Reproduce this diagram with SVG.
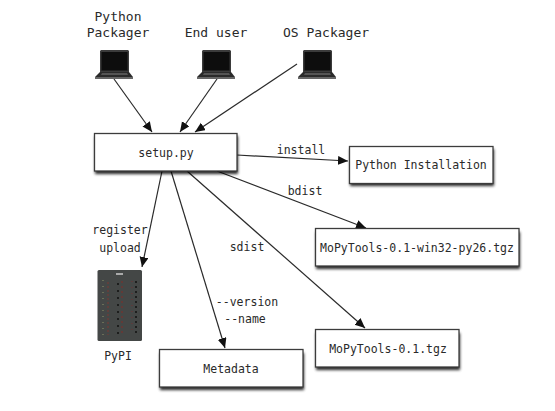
<svg xmlns="http://www.w3.org/2000/svg" xmlns:xlink="http://www.w3.org/1999/xlink" width="555" height="411" viewBox="0 0 555 411">
<style>
text{font-family:"DejaVu Sans Mono","Liberation Mono",monospace;font-size:11.5px;fill:#2a2a2a;text-anchor:middle}
text.big{font-size:13px}
.box{fill:#fff;stroke:#3c3c3c;stroke-width:1.300}
.sh{fill:#000;opacity:.85;filter:url(#blur)}
.c{fill:none;stroke:#2a2a2a;stroke-width:1.200;marker-end:url(#arrow)}
</style>
<defs>
<filter id="blur" x="-10%" y="-30%" width="120%" height="160%"><feGaussianBlur stdDeviation="1.500"/></filter>
<filter id="soft" x="-5%" y="-5%" width="110%" height="110%"><feGaussianBlur stdDeviation="0.500"/></filter>
<marker id="arrow" markerUnits="userSpaceOnUse" markerWidth="12" markerHeight="10" refX="10" refY="4.500" orient="auto"><path d="M0 0L10 4.500L0 9Z" fill="#111"/></marker>
<g id="laptop" filter="url(#soft)">
<path d="M6 0H33L34 1V22H5V1Z" fill="#3a3a3a"/>
<rect x="6.500" y="2" width="26" height="18.500" fill="#070707"/>
<path d="M5 22H34L38 27H0Z" fill="#2c2c2c"/>
<path d="M7 23H32L33 25H6Z" fill="#555"/>
<rect x="0" y="27" width="38" height="2" fill="#666"/>
</g>
</defs>
<rect width="555" height="411" fill="#fff"/>
<g id="connectors">
<line class="c" x1="114" y1="79" x2="152" y2="132"/>
<line class="c" x1="217" y1="79" x2="180" y2="132"/>
<line class="c" x1="297" y1="64" x2="195" y2="132"/>
<line class="c" x1="237" y1="155" x2="348" y2="161"/>
<line class="c" x1="217" y1="171" x2="366" y2="228"/>
<line class="c" x1="187" y1="171" x2="365" y2="328"/>
<line class="c" x1="171" y1="171" x2="225" y2="348"/>
<line class="c" x1="162" y1="171" x2="142" y2="267"/>
</g>
<g id="edge-labels">
<text x="301" y="154">install</text>
<text x="305" y="195">bdist</text>
<text x="247" y="251">sdist</text>
<text x="120" y="234">register</text>
<text x="120" y="252">upload</text>
<text x="247" y="306">--version</text>
<text x="245" y="323">--name</text>
</g>
<g id="python-packager"><text class="big" x="118" y="21">Python</text><text class="big" x="118" y="37">Packager</text><use xlink:href="#laptop" href="#laptop" x="95" y="50"/></g>
<g id="end-user"><text class="big" x="216" y="37">End user</text><use xlink:href="#laptop" href="#laptop" x="197" y="50"/></g>
<g id="os-packager"><text class="big" x="326" y="37">OS Packager</text><use xlink:href="#laptop" href="#laptop" x="298" y="50"/></g>
<g id="setup"><rect class="sh" x="95" y="136" width="143" height="38"/><rect class="box" x="94.500" y="133.500" width="142.500" height="37.500"/><text x="166" y="157">setup.py</text></g>
<g id="python-installation"><rect class="sh" x="350" y="149" width="144" height="37"/><rect class="box" x="349.500" y="146.500" width="143.500" height="37"/><text x="421" y="169">Python Installation</text></g>
<g id="win32"><rect class="sh" x="316" y="232" width="204" height="37"/><rect class="box" x="315.500" y="228.500" width="203.500" height="37.500"/><text x="417" y="252">MoPyTools-0.1-win32-py26.tgz</text></g>
<g id="tgz"><rect class="sh" x="316" y="333" width="144" height="37"/><rect class="box" x="315.500" y="329.500" width="143.500" height="37.500"/><text x="388" y="353">MoPyTools-0.1.tgz</text></g>
<g id="metadata"><rect class="sh" x="160" y="353" width="144" height="37"/><rect class="box" x="159.500" y="349.500" width="143.500" height="37.500"/><text x="231" y="373">Metadata</text></g>
<g id="pypi">
<rect x="97.500" y="270" width="44.500" height="71" rx="1.500" fill="#444746"/>
<rect x="116" y="273" width="7" height="2" fill="#aaa"/>
<g fill="none" filter="url(#soft)">
<path d="M103 280V335" stroke="#8f9468" stroke-width="1" stroke-dasharray="1 5"/>
<path d="M108 282V335" stroke="#7a3a34" stroke-width="1" stroke-dasharray="2 2"/>
<path d="M118 283V335" stroke="#151515" stroke-width="1.500" stroke-dasharray="2 5"/>
<path d="M122 281V335" stroke="#6e3530" stroke-width="1.500" stroke-dasharray="2 3"/>
<path d="M132 281V335" stroke="#6e3530" stroke-width="1" stroke-dasharray="1 5"/>
<path d="M136 281V335" stroke="#151515" stroke-width="1.500" stroke-dasharray="2 3"/>
</g>
<text x="118" y="360">PyPI</text>
</g>
</svg>
